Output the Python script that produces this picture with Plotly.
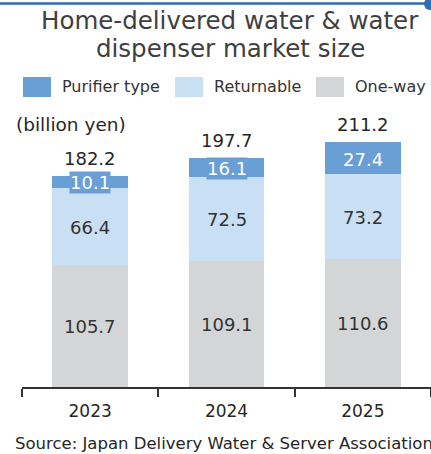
import plotly.graph_objects as go

# data (billion yen)
years = ["2023", "2024", "2025"]
series_names = ["One-way", "Returnable", "Purifier type"]
one_way = [105.7, 109.1, 110.6]
returnable = [66.4, 72.5, 73.2]
purifier = [10.1, 16.1, 27.4]
totals = [182.2, 197.7, 211.2]

colors = {"One-way": "#D4D5D7", "Returnable": "#C9DFF3", "Purifier type": "#6A9FD6"}
label_colors = {"One-way": "#333333", "Returnable": "#333333", "Purifier type": "#FFFFFF"}
FONT = "DejaVu Sans"

W, H = 431, 454
ML, MR, MT, MB = 22, 0, 100, 67
plot_w = W - ML - MR
plot_h = H - MT - MB


def px_x(x):
    return (x - ML) / plot_w


def px_y(y):
    return (H - MB - y) / plot_h


values = {"One-way": one_way, "Returnable": returnable, "Purifier type": purifier}

fig = go.Figure()
for name in series_names:
    fig.add_trace(go.Bar(x=years, y=values[name], name=name,
                         marker=dict(color=colors[name], line=dict(width=0)),
                         showlegend=False, hoverinfo="skip"))

annotations = []
# segment labels (x given as category index so "2023" isn't read as a number)
base = [0.0] * len(years)
for name in series_names:
    for i in range(len(years)):
        v = values[name][i]
        mid = base[i] + v / 2
        annotations.append(dict(
            x=i, y=mid, xref="x", yref="y", text=f"{v:.1f}", showarrow=False,
            font=dict(family=FONT, size=18, color=label_colors[name]),
            bgcolor=colors[name] if name == "Purifier type" else None,
            borderpad=0, yanchor="middle", yshift=-1))
        base[i] += v

# totals
for i in range(len(years)):
    annotations.append(dict(
        x=i, y=totals[i], xref="x", yref="y", text=f"{totals[i]:.1f}",
        showarrow=False, yanchor="bottom", yshift=5,
        font=dict(family=FONT, size=18, color="#262626")))

# title
annotations.append(dict(x=px_x(230), y=px_y(20), xref="paper", yref="paper",
                        text="Home-delivered water & water", showarrow=False,
                        font=dict(family=FONT, size=24.5, color="#404040"),
                        xanchor="center", yanchor="middle"))
annotations.append(dict(x=px_x(230), y=px_y(49), xref="paper", yref="paper",
                        text="dispenser market size", showarrow=False,
                        font=dict(family=FONT, size=24.5, color="#404040"),
                        xanchor="center", yanchor="middle"))

# unit
annotations.append(dict(x=px_x(14), y=px_y(125), xref="paper", yref="paper",
                        text="(billion yen)", showarrow=False,
                        font=dict(family=FONT, size=18.5, color="#262626"),
                        xanchor="left", yanchor="middle"))

# source
annotations.append(dict(x=px_x(13), y=px_y(443), xref="paper", yref="paper",
                        text="Source: Japan Delivery Water & Server Association",
                        showarrow=False, font=dict(family=FONT, size=16.5, color="#262626"),
                        xanchor="left", yanchor="middle"))

shapes = []
# custom legend
legend_order = ["Purifier type", "Returnable", "One-way"]
legend_x = [23, 175, 316]
for name, lx in zip(legend_order, legend_x):
    shapes.append(dict(type="rect", xref="paper", yref="paper",
                       x0=px_x(lx), x1=px_x(lx + 28), y0=px_y(97), y1=px_y(77),
                       fillcolor=colors[name], line=dict(width=0)))
    annotations.append(dict(x=px_x(lx + 37), y=px_y(87), xref="paper", yref="paper",
                            text=name, showarrow=False, xanchor="left", yanchor="middle",
                            font=dict(family=FONT, size=16, color="#333333")))

# top decorative line
shapes.append(dict(type="line", xref="paper", yref="paper",
                   x0=px_x(0), x1=px_x(431), y0=px_y(3.5), y1=px_y(3.5),
                   line=dict(color="#2E6DB4", width=2.5), layer="above"))
shapes.append(dict(type="circle", xref="paper", yref="paper",
                   x0=px_x(424), x1=px_x(436), y0=px_y(-2), y1=px_y(10),
                   fillcolor="#2E6DB4", line=dict(width=0), layer="above"))

fig.update_layout(
    width=W, height=H,
    margin=dict(l=ML, r=MR, t=MT, b=MB),
    barmode="stack", bargap=0.443,
    plot_bgcolor="white", paper_bgcolor="white",
    font=dict(family=FONT, color="#262626"),
    annotations=annotations, shapes=shapes,
    xaxis=dict(type="category", range=[-0.5, len(years) - 0.5],
               showline=True, linecolor="#333333", linewidth=1.5,
               ticks="outside", tickson="boundaries", ticklen=8,
               tickcolor="#333333", tickwidth=1.5, automargin=False,
               ticklabelstandoff=8,
               tickfont=dict(family=FONT, size=17, color="#262626"),
               showgrid=False, fixedrange=True),
    yaxis=dict(visible=False, range=[0, plot_h / 1.158], fixedrange=True,
               automargin=False),
)

# page body has a default 8px margin; drop it so the chart fills the window
fig.write_html("out.html", config={"displayModeBar": False},
               post_script="document.body.style.margin='0';document.body.style.overflow='hidden';")
